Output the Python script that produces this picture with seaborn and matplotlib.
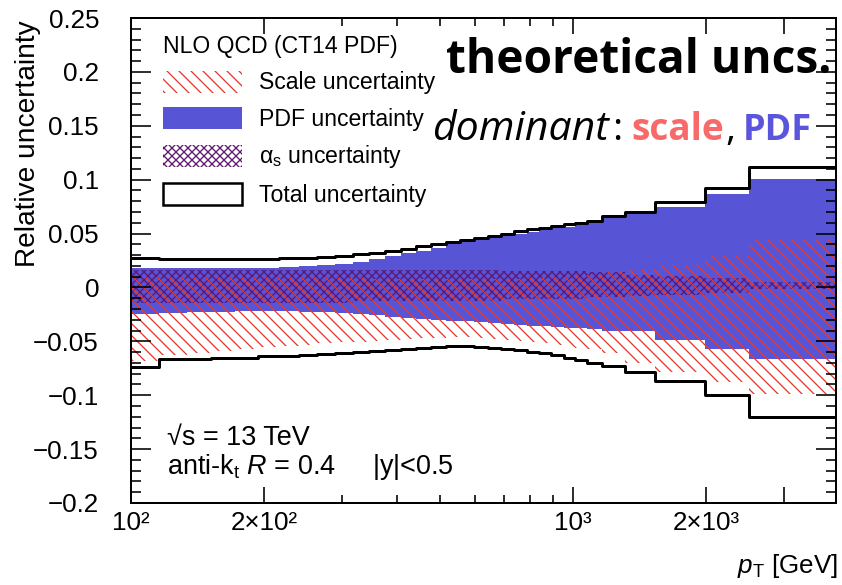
import io
import numpy as np
import matplotlib
matplotlib.use("Agg")
import matplotlib.pyplot as plt
import seaborn as sns
from matplotlib.patches import Patch
from matplotlib.ticker import FixedLocator, FixedFormatter, MultipleLocator, FuncFormatter, NullFormatter

# ---------------- data ----------------
pt_edges = [100, 116, 134, 152, 172, 194, 216, 240, 264, 290, 318, 346, 376, 408, 442,
            478, 516, 556, 598, 642, 688, 736, 786, 838, 894, 952, 1012, 1076, 1162,
            1310, 1530, 1992, 2500, 3937]

total_up = [0.027, 0.026, 0.026, 0.026, 0.026, 0.026, 0.027, 0.027, 0.028, 0.029,
            0.031, 0.032, 0.034, 0.036, 0.038, 0.040, 0.042, 0.044, 0.046, 0.048,
            0.050, 0.052, 0.054, 0.055, 0.057, 0.059, 0.060, 0.062, 0.066, 0.070,
            0.079, 0.092, 0.112]
total_dn = [-0.074, -0.066, -0.066, -0.065, -0.065, -0.064, -0.064, -0.063, -0.062, -0.061,
            -0.060, -0.059, -0.058, -0.057, -0.056, -0.055, -0.054, -0.054, -0.055, -0.056,
            -0.057, -0.058, -0.060, -0.061, -0.063, -0.065, -0.067, -0.070, -0.073, -0.078,
            -0.087, -0.100, -0.120]

pdf_up = [0.018, 0.018, 0.018, 0.018, 0.018, 0.018, 0.019, 0.020, 0.021, 0.022,
          0.024, 0.026, 0.029, 0.032, 0.034, 0.037, 0.040, 0.042, 0.044, 0.046,
          0.048, 0.050, 0.051, 0.053, 0.055, 0.056, 0.058, 0.060, 0.064, 0.068,
          0.075, 0.087, 0.101]
pdf_dn = [-0.025, -0.024, -0.023, -0.023, -0.022, -0.022, -0.022, -0.023, -0.023, -0.024,
          -0.025, -0.026, -0.027, -0.028, -0.029, -0.030, -0.031, -0.031, -0.032, -0.033,
          -0.034, -0.035, -0.036, -0.036, -0.037, -0.038, -0.038, -0.039, -0.040, -0.040,
          -0.049, -0.057, -0.066]

scale_up = [0.010, 0.010, 0.010, 0.010, 0.010, 0.010, 0.010, 0.010, 0.010, 0.009,
            0.009, 0.008, 0.008, 0.008, 0.008, 0.008, 0.008, 0.008, 0.008, 0.008,
            0.008, 0.008, 0.009, 0.009, 0.010, 0.010, 0.011, 0.012, 0.014, 0.016,
            0.021, 0.029, 0.044]
scale_dn = [-0.068, -0.063, -0.061, -0.059, -0.057, -0.055, -0.054, -0.053, -0.052, -0.051,
            -0.051, -0.050, -0.049, -0.048, -0.047, -0.047, -0.046, -0.046, -0.047, -0.048,
            -0.049, -0.050, -0.051, -0.052, -0.053, -0.055, -0.056, -0.057, -0.061, -0.070,
            -0.078, -0.088, -0.099]

as_up = [0.016, 0.016, 0.016, 0.016, 0.016, 0.016, 0.016, 0.016, 0.016, 0.016,
         0.016, 0.016, 0.016, 0.016, 0.016, 0.016, 0.016, 0.016, 0.016, 0.016,
         0.015, 0.015, 0.015, 0.015, 0.015, 0.015, 0.015, 0.014, 0.014, 0.012,
         0.011, 0.009, 0.005]
as_dn = [-0.014, -0.014, -0.014, -0.014, -0.014, -0.014, -0.014, -0.014, -0.014, -0.014,
         -0.013, -0.013, -0.013, -0.013, -0.013, -0.013, -0.013, -0.013, -0.013, -0.013,
         -0.011, -0.011, -0.011, -0.011, -0.011, -0.011, -0.011, -0.009, -0.009, -0.008,
         -0.007, -0.005, -0.001]

x_tick_values = [100, 200, 1000, 2000, 3000]
x_tick_labels = ["10\u00b2", "2\u00d710\u00b2", "10\u00b3", "2\u00d710\u00b3", ""]
x_minor_values = [300, 400, 500, 600, 700, 800, 900]

legend_labels = ["Scale uncertainty", "PDF uncertainty",
                 "\u03b1$_\\mathregular{s}$ uncertainty", "Total uncertainty"]


def render_pass(fig):
    # intermediate render into memory (keeps tick artists in sync)
    buf = io.BytesIO()
    fig.savefig(buf, format="png", dpi=72)


BLUE = "#5854d6"
RED = "#e23a33"
PURPLE = "#5e1470"
SALMON = "#f86a6a"
PDFBLUE = "#5a55dc"

sns.set_theme(style="ticks")
plt.rcParams.update({
    "font.family": ["Liberation Sans", "DejaVu Sans"],
    "mathtext.fontset": "custom",
    "mathtext.rm": "Liberation Sans",
    "mathtext.it": "Liberation Sans:italic",
    "mathtext.bf": "Liberation Sans:bold",
    "mathtext.fallback": "stixsans",
    "hatch.linewidth": 1.3,
    "axes.linewidth": 2.0,
    "axes.unicode_minus": True,
    "axes.axisbelow": False,
    "text.color": "black",
    "axes.labelcolor": "black",
    "axes.edgecolor": "black",
    "xtick.color": "black",
    "ytick.color": "black",
    "xtick.direction": "in",
    "ytick.direction": "in",
    "xtick.top": True,
    "ytick.right": True,
    "xtick.major.size": 16,
    "xtick.minor.size": 8,
    "ytick.major.size": 20,
    "ytick.minor.size": 10,
    "xtick.major.width": 1.6,
    "xtick.minor.width": 1.6,
    "ytick.major.width": 1.6,
    "ytick.minor.width": 1.6,
})

W, H = 842, 585
fig = plt.figure(figsize=(W / 72, H / 72), dpi=72)
ax = fig.add_axes([131 / W, 1 - 503 / H, 705 / W, 485 / H])
ax.set_xscale("log")


def fx(px):
    return px / W


def fy(py):
    return 1 - py / H


def ext(v):
    return np.append(np.asarray(v, dtype=float), v[-1])


edges = np.asarray(pt_edges, dtype=float)

ax.fill_between(edges, ext(pdf_dn), ext(pdf_up), step="post",
                facecolor=BLUE, edgecolor="none", linewidth=0, zorder=1.1)
ax.fill_between(edges, ext(as_dn), ext(as_up), step="post",
                facecolor="none", edgecolor=PURPLE, hatch="xxx", linewidth=0, zorder=1.2)
ax.fill_between(edges, ext(scale_dn), ext(scale_up), step="post",
                facecolor="none", edgecolor=RED, hatch="\\\\", linewidth=0, zorder=1.3)
ax.set_ylim(-0.2, 0.25)
render_pass(fig)
sns.lineplot(x=edges, y=ext(total_up), drawstyle="steps-post", color="black",
             linewidth=3, ax=ax, zorder=2.1)
render_pass(fig)
sns.lineplot(x=edges, y=ext(total_dn), drawstyle="steps-post", color="black",
             linewidth=3, ax=ax, zorder=2.1)
render_pass(fig)

ax.set_xlim(100, 3937)
ax.set_ylim(-0.2, 0.25)
ax.xaxis.set_major_locator(FixedLocator(x_tick_values))
ax.xaxis.set_major_formatter(FixedFormatter(x_tick_labels))
ax.xaxis.set_minor_locator(FixedLocator(x_minor_values))
ax.xaxis.set_minor_formatter(NullFormatter())
ax.yaxis.set_major_locator(MultipleLocator(0.05))
ax.yaxis.set_minor_locator(MultipleLocator(0.01))
render_pass(fig)


def yfmt(v, pos):
    s = f"{v:.2f}".rstrip("0").rstrip(".")
    if s in ("-0", "0", ""):
        s = "0"
    return s.replace("-", "\u2212")


ax.yaxis.set_major_formatter(FuncFormatter(yfmt))
render_pass(fig)
ax.tick_params(which="both", direction="in", top=True, right=True, bottom=True, left=True,
               color="black", width=1.6)
ax.tick_params(axis="y", which="major", length=20, labelsize=26, pad=32)
ax.tick_params(axis="y", which="minor", length=10)
ax.tick_params(axis="x", which="major", length=16, labelsize=26, pad=8)
ax.tick_params(axis="x", which="minor", length=8)
render_pass(fig)

ax.set_ylabel("Relative uncertainty", fontsize=28, loc="top", va="center")
ax.yaxis.set_label_coords((28 - 131) / 705, 1 - 2 / 485)
ax.set_xlabel("$p_{\\mathregular{T}}$ [GeV]", fontsize=26, loc="right")
ax.xaxis.set_label_coords(1 + 2 / 705, -(552 - 503) / 485)
render_pass(fig)

handles = [
    Patch(facecolor="none", edgecolor=RED, hatch="\\\\", linewidth=0),
    Patch(facecolor=BLUE, edgecolor="none", linewidth=0),
    Patch(facecolor="none", edgecolor=PURPLE, hatch="xxx", linewidth=0),
    Patch(facecolor="white", edgecolor="black", linewidth=2.5),
]
leg = ax.legend(handles, legend_labels, title="NLO QCD (CT14 PDF)", fontsize=23,
                title_fontsize=23, alignment="left", frameon=False,
                loc="upper left", bbox_to_anchor=(fx(163), fy(35)),
                bbox_transform=fig.transFigure, borderpad=0, borderaxespad=0,
                handlelength=79 / 23, handleheight=25 / 23, handletextpad=0.74,
                labelspacing=0.55)
render_pass(fig)

fig.text(fx(831), fy(73), "theoretical uncs.", family=["Open Sans", "DejaVu Sans"],
         fontweight="bold", fontsize=46, ha="right", va="baseline", color="black")
render_pass(fig)

renderer = fig.canvas.get_renderer()
pieces = [("dominant", "italic", "normal", "black", 0, 41),
          (":", "normal", "normal", "black", 1, 39),
          ("scale", "normal", "bold", SALMON, 7, 37),
          (",", "normal", "normal", "black", 0, 39),
          ("PDF", "normal", "bold", PDFBLUE, 5, 36)]
xpix = 432.0
for txt, style, weight, col, gap, size in pieces:
    xpix += gap
    t = fig.text(fx(xpix), fy(140), txt, family=["Open Sans", "DejaVu Sans"],
                 fontstyle=style, fontweight=weight, fontsize=size, color=col,
                 ha="left", va="baseline")
    bb = t.get_window_extent(renderer)
    xpix = bb.x1 + 2
render_pass(fig)

fig.text(fx(167), fy(445), "\u221as = 13 TeV", fontsize=27, ha="left", va="baseline")
fig.text(fx(167), fy(474), "anti-k$_\\mathregular{t}$ $R$ = 0.4     |y|<0.5", fontsize=27,
         ha="left", va="baseline")
render_pass(fig)

fig.savefig("out.png", dpi=72)
